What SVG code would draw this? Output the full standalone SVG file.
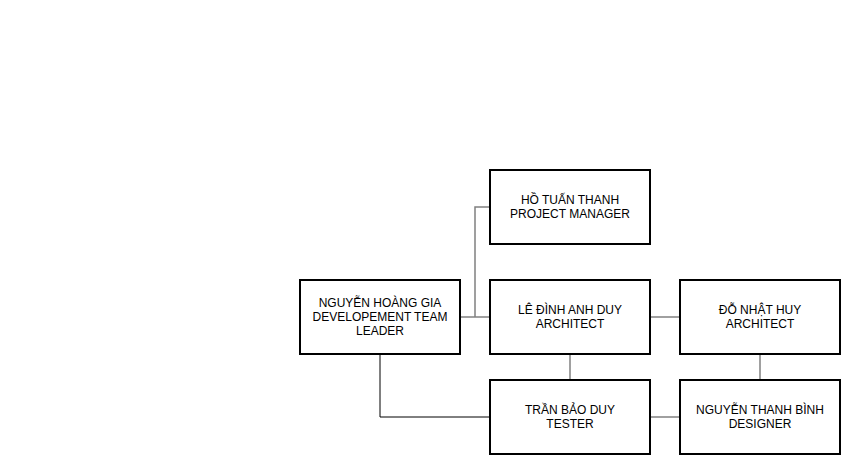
<svg xmlns="http://www.w3.org/2000/svg" width="860" height="475" viewBox="0 0 860 475">
<style>
.box{fill:#fff;stroke:#000;stroke-width:2}
.lbl{font-family:"Liberation Sans",Arial,sans-serif;font-size:12px;fill:#000;text-anchor:middle}
.c{fill:none;stroke:#808080;stroke-width:1.5}
.cd{fill:none;stroke:#000;stroke-width:1}
</style>
<rect width="860" height="475" fill="#fff"/>
<g id="connectors">
<path class="c" d="M460 317H490"/>
<path class="c" d="M475 317V207H490"/>
<path class="c" d="M650 317H680"/>
<path class="c" d="M570 354V380"/>
<path class="c" d="M760 354V380"/>
<path class="c" d="M650 417H680"/>
<path class="cd" d="M380 354V417H490"/>
</g>
<g id="pm">
<rect class="box" x="490" y="170" width="160" height="74"/>
<text class="lbl" x="570" y="204">HỒ TUẤN THANH</text>
<text class="lbl" x="570" y="218">PROJECT MANAGER</text>
</g>
<g id="leader">
<rect class="box" x="300" y="280" width="160" height="74"/>
<text class="lbl" x="380" y="307">NGUYỄN HOÀNG GIA</text>
<text class="lbl" x="380" y="321">DEVELOPEMENT TEAM</text>
<text class="lbl" x="380" y="335">LEADER</text>
</g>
<g id="architect1">
<rect class="box" x="490" y="280" width="160" height="74"/>
<text class="lbl" x="570" y="314">LÊ ĐÌNH ANH DUY</text>
<text class="lbl" x="570" y="328">ARCHITECT</text>
</g>
<g id="architect2">
<rect class="box" x="680" y="280" width="160" height="74"/>
<text class="lbl" x="760" y="314">ĐỖ NHẬT HUY</text>
<text class="lbl" x="760" y="328">ARCHITECT</text>
</g>
<g id="tester">
<rect class="box" x="490" y="380" width="160" height="74"/>
<text class="lbl" x="570" y="414">TRẦN BẢO DUY</text>
<text class="lbl" x="570" y="428">TESTER</text>
</g>
<g id="designer">
<rect class="box" x="680" y="380" width="160" height="74"/>
<text class="lbl" x="760" y="414">NGUYỄN THANH BÌNH</text>
<text class="lbl" x="760" y="428">DESIGNER</text>
</g>
</svg>
